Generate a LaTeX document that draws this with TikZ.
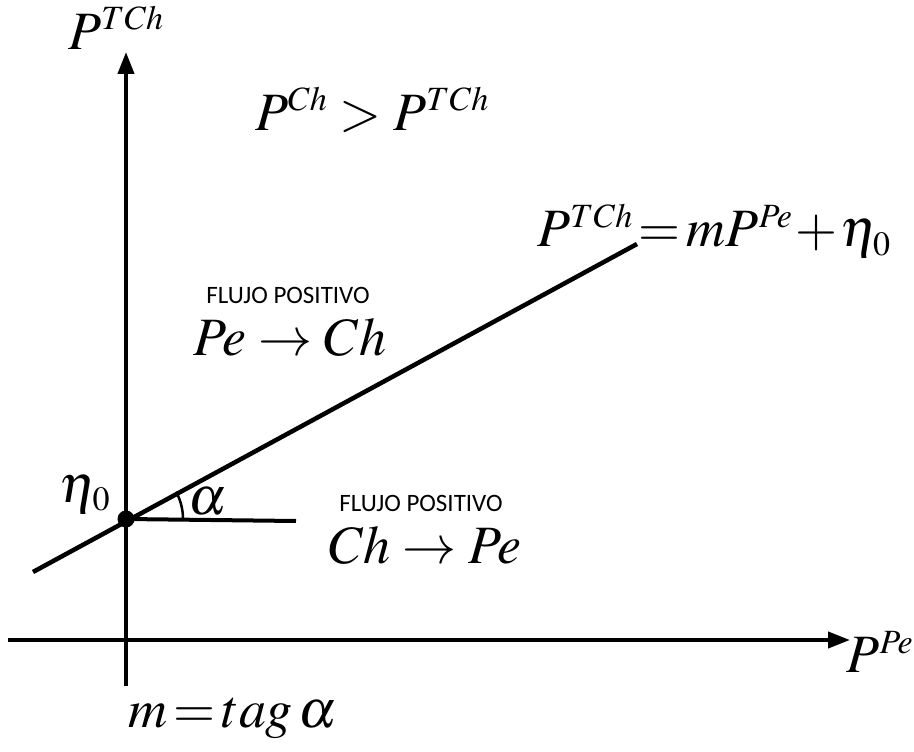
\documentclass[tikz,border=0pt]{standalone}
\usepackage{mathptmx}
\usepackage[no-math]{fontspec}
\newfontfamily\carl{Carlito}
\DeclareMathSizes{54}{54}{34}{24}
\usetikzlibrary{arrows.meta}
\begin{document}
\begin{tikzpicture}[x=1pt,y=-1pt,
  axisline/.style={line width=4pt,-{Triangle[length=22pt,width=16pt]}},
  mainline/.style={line width=4.5pt},
  bigmath/.style={inner sep=0pt,font=\fontsize{54}{58}\selectfont},
  flujo/.style={inner sep=0pt,font=\carl\fontsize{25}{28}\selectfont}]
\useasboundingbox (0,0) rectangle (914,752);
% axes
\coordinate (ybot) at (126,686);
\coordinate (ytop) at (126,52);
\coordinate (xl) at (8,640);
\coordinate (xr) at (850,640);
\draw[axisline] (ybot) -- (ytop);
\draw[axisline] (xl) -- (xr);
% main line
\coordinate (la) at (33,572);
\coordinate (lb) at (637,244);
\draw[mainline] (la) -- (lb);
% dot and horizontal
\coordinate (d) at (126,519);
\coordinate (hend) at (296,521);
\draw[line width=4pt] (d) -- (hend);
\fill (d) circle (8.5);
\draw[line width=2.5pt] (d) ++(57,0) arc[start angle=0,end angle=-28.5,radius=57];
% labels
\node[bigmath] (ylab) at (116,28) {$P^{TCh}$};
\node[bigmath] (cond) at (372,110) {$P^{Ch} > P^{TCh}$};
\node[bigmath] (eq) at (714,231) {$\medmuskip=1mu\thickmuskip=2mu P^{TCh} = mP^{Pe} + \eta_0$};
\node[flujo] (f1) at (288,295) {FLUJO POSITIVO};
\node[bigmath] (pc) at (290,337) {$Pe \rightarrow Ch$};
\node[flujo] (f2) at (421,503) {FLUJO POSITIVO};
\node[bigmath] (cp) at (425,545) {$Ch \rightarrow Pe$};
\node[bigmath] (eta) at (85,494) {$\eta_0$};
\node[bigmath] (al) at (208,502) {$\alpha$};
\node[bigmath] (xlab) at (880,652) {$P^{Pe}$};
\node[bigmath] (mt) at (233,718) {$\thickmuskip=2mu m = tag\,\alpha$};
\end{tikzpicture}
\end{document}
